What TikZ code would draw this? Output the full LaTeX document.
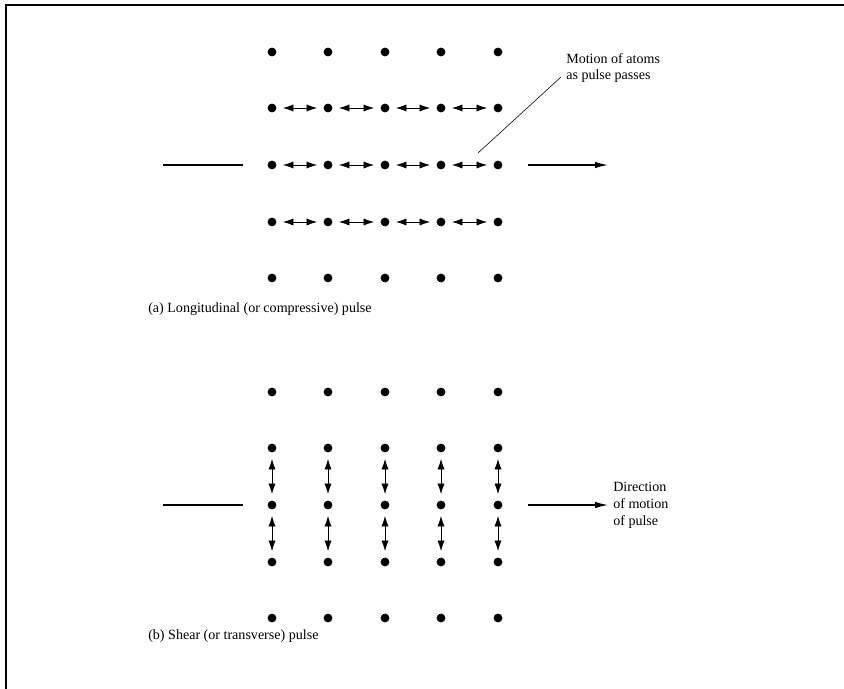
\documentclass[tikz,border=0pt]{standalone}
\usepackage{fontspec}
\setmainfont{Liberation Serif}
\usetikzlibrary{arrows.meta}

\begin{document}
\begin{tikzpicture}[x=0.025cm, y=-0.025cm,
    font=\fontsize{10}{12}\selectfont,
    atom/.style={circle, fill=black, inner sep=0pt, minimum size=0.22cm},
    swing/.style={{Latex[length=2.6mm,width=1.8mm]}-{Latex[length=2.6mm,width=1.8mm]},
                  line width=0.4pt, shorten <=0.16cm, shorten >=0.16cm},
    pulse/.style={line width=0.9pt},
    leader/.style={line width=0.4pt},
    label/.style={anchor=west, align=left, inner sep=0pt}]
    \useasboundingbox (0,0) rectangle (844,689);
    % frame
    \draw[line width=1.4pt] (6,689) |- (844,5);
    % (a) LONGITUDINAL
    \foreach \r/\y in {1/52,2/108,3/165,4/222,5/278}
      \foreach \c/\x in {1/272,2/328,3/385,4/441,5/498}
        \node[atom] (a\r\c) at (\x,\y) {};
    \foreach \r in {2,3,4}
      \foreach \c [count=\n from 2] in {1,...,4}
        \draw[swing] (a\r\c) -- (a\r\n);
    \coordinate (ain1) at (163,165);
    \coordinate (ain2) at (243,165);
    \coordinate (aout1) at (528,165);
    \coordinate (aout2) at (608,165);
    \draw[pulse] (ain1) -- (ain2);
    \draw[pulse, -{Latex[length=3.2mm,width=1.6mm]}] (aout1) -- (aout2);
    \node[label] (motion) at (566,68) {Motion of atoms\\as pulse passes};
    \coordinate (leadtip) at (478,153);
    \coordinate (leadend) at (561,77);
    \draw[leader] (leadtip) -- (leadend);
    \node[anchor=west, inner sep=0pt] (capa) at (148,309) {(a) Longitudinal (or compressive) pulse};
    % (b) SHEAR
    \foreach \r/\y in {1/392,2/448,3/505,4/562,5/618}
      \foreach \c/\x in {1/272,2/328,3/385,4/441,5/498}
        \node[atom] (b\r\c) at (\x,\y) {};
    \foreach \c in {1,...,5}
      \foreach \r [count=\n from 3] in {2,3}
        \draw[swing] (b\r\c) -- (b\n\c);
    \coordinate (bin1) at (163,505);
    \coordinate (bin2) at (243,505);
    \coordinate (bout1) at (528,505);
    \coordinate (bout2) at (608,505);
    \draw[pulse] (bin1) -- (bin2);
    \draw[pulse, -{Latex[length=3.2mm,width=1.6mm]}] (bout1) -- (bout2);
    \node[label] (direction) at (613,505) {Direction\\of motion\\of pulse};
    \node[anchor=west, inner sep=0pt] (capb) at (148,636) {(b) Shear (or transverse) pulse};
\end{tikzpicture}
\end{document}
